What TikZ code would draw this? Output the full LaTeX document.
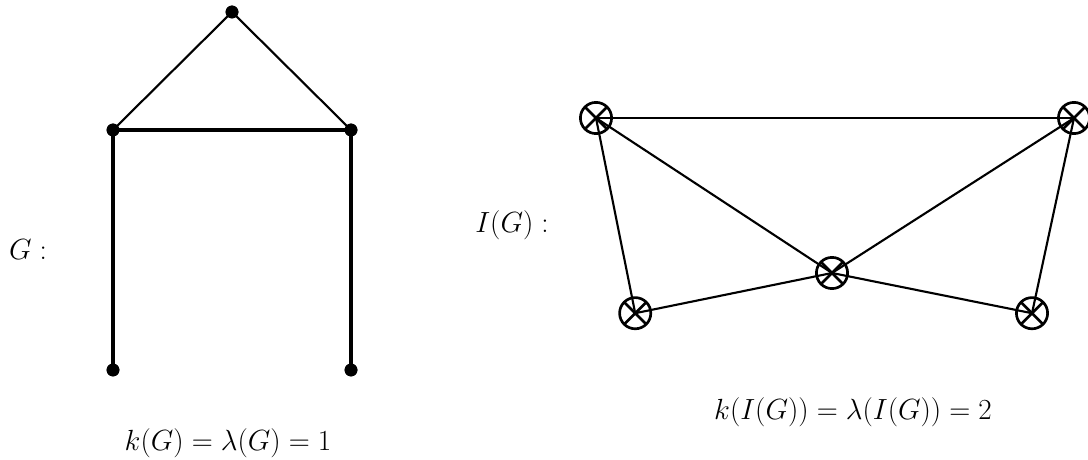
\documentclass[tikz,border=0pt]{standalone}
\usepackage{amsmath, amssymb}
\usepackage{tikz}
\usetikzlibrary{positioning, calc}
\tikzset{
  % vertici del grafo G
  dot/.style={circle,fill=black,inner sep=0pt,minimum size=0.32cm},
  % vertici di I(G)
  crossvtx/.style={circle,draw=black,line width=1.9pt,inner sep=0pt,minimum size=0.78cm,
    path picture={\draw[line width=1.9pt] (path picture bounding box.north west)--(path picture bounding box.south east)
      (path picture bounding box.north east)--(path picture bounding box.south west);}},
  % lati
  edge thin/.style={line width=1.5pt},
  edge thick/.style={line width=2.5pt},
  lab/.style={font=\fontsize{22}{26}\selectfont,inner sep=0pt}
}
\begin{document}
\begin{tikzpicture}
  \useasboundingbox (0,0) rectangle (27.2,11.5);
  % grafo G
  \node[dot] (t) at (5.8,11.2) {};
  \node[dot] (l) at (2.825,8.25) {};
  \node[dot] (r) at (8.775,8.25) {};
  \node[dot] (bl) at (2.825,2.25) {};
  \node[dot] (br) at (8.775,2.25) {};
  \draw[edge thin] (t.center)--(l.center);
  \draw[edge thin] (t.center)--(r.center);
  \draw[edge thick] (l.center)--(r.center);
  \draw[edge thick] (l.center)--(bl.center);
  \draw[edge thick] (r.center)--(br.center);
  \node[dot] at (t) {};
  \node[dot] at (l) {};
  \node[dot] at (r) {};
  \node[dot] at (bl) {};
  \node[dot] at (br) {};
  \node[lab] (gl) at (0.7,5.25) {$G:$};
  \node[lab] (kg) at (5.7,0.425) {$k(G)=\lambda(G)=1$};
  % grafo I(G)
  \node[crossvtx] (a) at (14.9,8.55) {};
  \node[crossvtx] (b) at (26.85,8.55) {};
  \node[crossvtx] (c) at (20.8,4.675) {};
  \node[crossvtx] (d) at (15.88,3.67) {};
  \node[crossvtx] (e) at (25.8,3.67) {};
  \draw[edge thin] (a.center)--(b.center);
  \draw[edge thin] (a.center)--(c.center);
  \draw[edge thin] (b.center)--(c.center);
  \draw[edge thin] (a.center)--(d.center);
  \draw[edge thin] (b.center)--(e.center);
  \draw[edge thin] (d.center)--(c.center);
  \draw[edge thin] (c.center)--(e.center);
  \node[lab] (il) at (12.8,5.875) {$I(G):$};
  \node[lab] (ki) at (21.325,1.2) {$k(I(G))=\lambda(I(G))=2$};
\end{tikzpicture}
\end{document}
